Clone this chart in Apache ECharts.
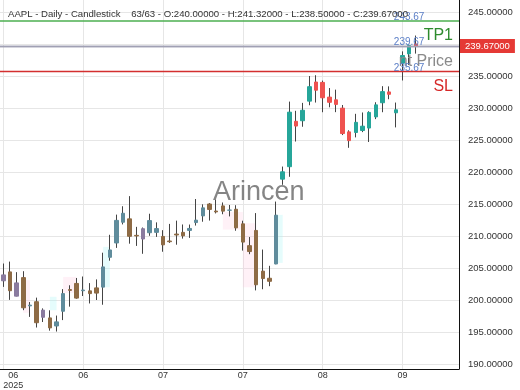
<!DOCTYPE html>
<html>
<head>
<meta charset="utf-8">
<script src="https://cdn.jsdelivr.net/npm/echarts@6/dist/echarts.min.js"></script>
<style>html,body{margin:0;padding:0;background:#fff;}#c{width:520px;height:390px;}</style>
</head>
<body>
<div id="c"></div>
<script>
const dates = [
 '2025-06-06','2025-06-09','2025-06-10','2025-06-11','2025-06-12','2025-06-13','2025-06-16','2025-06-17','2025-06-18','2025-06-20',
 '2025-06-23','2025-06-24','2025-06-25','2025-06-26','2025-06-27','2025-06-30',
 '2025-07-01','2025-07-02','2025-07-03','2025-07-07','2025-07-08','2025-07-09','2025-07-10','2025-07-11','2025-07-14','2025-07-15',
 '2025-07-16','2025-07-17','2025-07-18','2025-07-21','2025-07-22','2025-07-23','2025-07-24','2025-07-25','2025-07-28','2025-07-29',
 '2025-07-30','2025-07-31',
 '2025-08-01','2025-08-04','2025-08-05','2025-08-06','2025-08-07','2025-08-08','2025-08-11','2025-08-12','2025-08-13','2025-08-14',
 '2025-08-15','2025-08-18','2025-08-19','2025-08-20','2025-08-21','2025-08-22','2025-08-25','2025-08-26','2025-08-27','2025-08-28',
 '2025-08-29',
 '2025-09-02','2025-09-03','2025-09-04','2025-09-05'
];
const padding = ['p1','p2','p3','p4','p5','p6'];
const opens  = [203.0,204.39,200.6,203.5,199.08,199.73,197.3,197.2,195.94,198.24,201.63,202.59,201.45,201.43,201.89,202.01,
 206.67,208.91,212.15,212.68,210.1,209.53,210.51,210.57,209.93,209.22,210.3,210.57,210.87,212.1,213.14,215.0,213.9,214.7,214.03,214.18,211.9,208.49,
 210.87,204.51,203.4,205.63,218.88,220.83,227.92,228.01,231.07,234.06,234.0,231.7,231.28,229.98,226.27,226.17,226.48,226.87,228.61,230.82,232.51,
 229.25,237.0,238.45,240.0];
const highs  = [205.7,206.0,204.35,204.5,199.68,200.37,198.69,198.39,197.57,201.7,202.3,203.44,203.67,202.64,203.22,207.39,
 210.19,213.34,214.65,216.23,211.43,211.33,213.48,212.13,210.91,211.89,212.4,211.8,211.79,215.78,214.95,215.15,215.69,215.24,214.85,214.81,212.39,209.84,
 213.58,207.88,205.34,215.38,220.85,231.0,229.56,230.8,235.0,235.12,234.28,233.12,232.87,230.47,226.52,229.09,229.3,229.49,230.9,233.41,233.38,
 230.85,238.85,239.9,241.32];
const lows   = [202.05,200.02,200.57,198.41,197.36,195.7,196.56,195.21,195.07,196.86,198.96,200.2,200.62,199.46,200.0,199.26,
 206.14,208.14,211.81,208.8,208.45,207.22,210.03,209.86,207.54,208.92,208.64,209.59,209.7,211.63,212.23,212.41,213.53,213.4,213.06,210.82,207.72,207.16,
 201.5,201.68,202.16,205.59,218.0,219.25,224.76,227.07,230.43,230.85,229.34,230.11,229.35,225.77,223.78,225.41,226.23,224.69,228.26,229.34,231.37,
 226.97,234.3,236.74,238.5];
const closes = [203.92,201.45,202.67,198.78,199.2,196.45,198.42,195.64,196.58,201.0,201.5,200.3,201.56,201.0,201.08,205.17,
 207.82,212.44,213.55,209.95,210.01,211.14,212.41,211.16,208.62,209.11,210.16,210.02,211.18,212.48,214.4,214.15,213.76,213.88,214.05,211.27,209.05,207.57,
 202.38,203.35,202.92,213.25,220.03,229.35,227.18,229.65,233.33,232.78,231.59,230.89,230.56,226.01,224.9,227.76,227.16,229.31,230.49,232.56,232.14,
 229.72,238.2,239.78,239.67];
const yTicks = [190,195,200,205,210,215,220,225,230,235,240,245];
const levelTP1 = 243.67, levelPrice = 239.67, levelSL = 235.67;
const labelEvery = 12;
// faint highlight boxes: [fromIndex, toIndex, lowValue, highValue, kind]
const boxFrom = [3, 7, 9, 15, 33, 36, 41];
const boxTo   = [4, 8, 11, 16, 36, 38, 42];
const boxLow  = [198.0, 198.4, 201.1, 202.0, 211.0, 202.0, 205.8];
const boxHigh = [203.1, 200.5, 203.6, 208.3, 213.75, 212.0, 213.3];
const boxKind = ['p', 'c', 'p', 'c', 'p', 'p', 'c'];

const UP = '#26a69a', DOWN = '#ef5350', WICK = '#444444';
const MUTED_UP = '#5f8c9c', MUTED_DOWN = '#8e6b45', MUTED_PURPLE = '#8a7b9f';
const purpleIdx = [0, 2, 6, 21];
const mutedUntil = 41;

const cats = dates.concat(padding);
const wickData = dates.map((d, i) => [opens[i], closes[i], lows[i], highs[i]]);
const bodyData = dates.map((d, i) => {
  const o = opens[i], c = closes[i];
  const v = [o, c, Math.min(o, c), Math.max(o, c)];
  if (i <= mutedUntil) {
    let col = c >= o ? MUTED_UP : MUTED_DOWN;
    if (purpleIdx.indexOf(i) >= 0) col = MUTED_PURPLE;
    return { value: v, itemStyle: { color: col, color0: col, borderColor: col, borderColor0: col } };
  }
  return v;
});
const areas = boxFrom.map((f, k) => [
  { xAxis: dates[f], yAxis: boxHigh[k], itemStyle: { color: boxKind[k] === 'p' ? 'rgba(255,190,220,0.22)' : 'rgba(160,245,245,0.28)' } },
  { xAxis: dates[boxTo[k]], yAxis: boxLow[k] }
]);

const FONT = 'Liberation Sans, Arial, sans-serif';
const chart = echarts.init(document.getElementById('c'), null, { renderer: 'canvas' });
const showIdx = (i) => i < dates.length && i % labelEvery === 0;

chart.setOption({
  animation: false,
  backgroundColor: '#fff',
  title: {
    text: 'AAPL - Daily - Candlestick    63/63 - O:240.00000 - H:241.32000 - L:238.50000 - C:239.67000',
    left: 3, top: 4,
    textStyle: { fontSize: 9.6, fontWeight: 'normal', color: '#333', fontFamily: FONT }
  },
  grid: { left: 0, right: 61, top: 0, bottom: 21, containLabel: false, outerBoundsMode: 'none' },
  xAxis: {
    type: 'category',
    data: cats,
    boundaryGap: true,
    axisLine: { show: true, lineStyle: { color: '#111', width: 1 } },
    axisTick: { show: false, alignWithLabel: true, interval: (i) => showIdx(i) },
    axisLabel: {
      interval: (i) => showIdx(i),
      margin: 2,
      fontSize: 9,
      color: '#333',
      fontFamily: FONT,
      lineHeight: 10,
      formatter: (val, idx) => {
        const m = val.slice(5, 7);
        if (idx === 0) return '{f|' + m + '}\n{f|' + val.slice(0, 4) + '}';
        return m;
      },
      rich: { f: { padding: [0, 0, 0, 20], fontSize: 9, color: '#333', lineHeight: 10, fontFamily: FONT } }
    },
    splitLine: { show: true, alignWithLabel: true, interval: (i) => showIdx(i), lineStyle: { color: '#e6e6e6', width: 1 } }
  },
  yAxis: {
    type: 'value',
    position: 'right',
    min: 190 - 5 / 6.4,
    max: 245 + 12 / 6.4,
    scale: true,
    axisLine: { show: true, lineStyle: { color: '#111', width: 1 } },
    axisTick: { show: false, customValues: yTicks },
    axisLabel: {
      customValues: yTicks,
      margin: 9,
      fontSize: 9.5,
      color: '#333',
      fontFamily: FONT,
      formatter: (v) => v.toFixed(5)
    },
    splitLine: { show: true, lineStyle: { color: '#e6e6e6', width: 1 } }
  },
  graphic: [{
    type: 'text', left: 213, top: 179, z: 100,
    style: { text: 'Arincen', fontSize: 27, fill: '#707070', opacity: 0.85, fontFamily: FONT }
  }],
  series: [
    {
      name: 'lines', type: 'line', data: [], silent: true,
      markArea: { silent: true, data: areas },
      markLine: {
        silent: true, symbol: ['none', 'none'], animation: false,
        data: [
          { yAxis: levelTP1, lineStyle: { color: '#4caf50', width: 1.5, type: 'solid' },
            label: { show: true, position: 'insideEndBottom', formatter: 'TP1', color: '#2e8b2e', fontSize: 16, fontFamily: FONT, distance: [6, 7] } },
          { yAxis: levelPrice, lineStyle: { color: '#a0a0b4', width: 1.3, type: 'solid' },
            label: { show: true, position: 'insideEndBottom', formatter: 'nt Price', color: '#8a8a8a', fontSize: 16, fontFamily: FONT, distance: [6, 7] } },
          { yAxis: levelPrice, lineStyle: { color: '#a0a0b4', width: 1.3, type: 'solid' },
            label: { show: true, position: 'end', formatter: levelPrice.toFixed(5), color: '#fff', backgroundColor: '#e53935', padding: [2, 5], distance: 1, fontSize: 9.5, fontFamily: FONT } },
          { yAxis: levelSL, lineStyle: { color: '#d32f2f', width: 1.3, type: 'solid' },
            label: { show: true, position: 'insideEndBottom', formatter: 'SL', color: '#d62828', fontSize: 16, fontFamily: FONT, distance: [6, 7] } }
        ]
      }
    },
    {
      name: 'wick', type: 'candlestick', data: wickData, barWidth: 1, silent: true,
      itemStyle: { color: WICK, color0: WICK, borderColor: WICK, borderColor0: WICK, borderWidth: 1 }
    },
    {
      name: 'body', type: 'candlestick', data: bodyData, barWidth: 4, silent: true,
      itemStyle: { color: UP, color0: DOWN, borderColor: UP, borderColor0: DOWN, borderWidth: 1 },
      markPoint: {
        silent: true, symbol: 'rect', symbolSize: 1, itemStyle: { color: 'rgba(0,0,0,0)' },
        label: { show: true, position: 'top', distance: 0, offset: [0, 2], color: '#5b7fc7', fontSize: 10, fontFamily: FONT, formatter: (p) => p.value },
        data: [
          { coord: [dates[61], levelTP1], value: levelTP1.toFixed(2) },
          { coord: [dates[61], levelPrice], value: levelPrice.toFixed(2) },
          { coord: [dates[61], levelSL], value: levelSL.toFixed(2) }
        ]
      }
    }
  ]
});
</script>
</body>
</html>
